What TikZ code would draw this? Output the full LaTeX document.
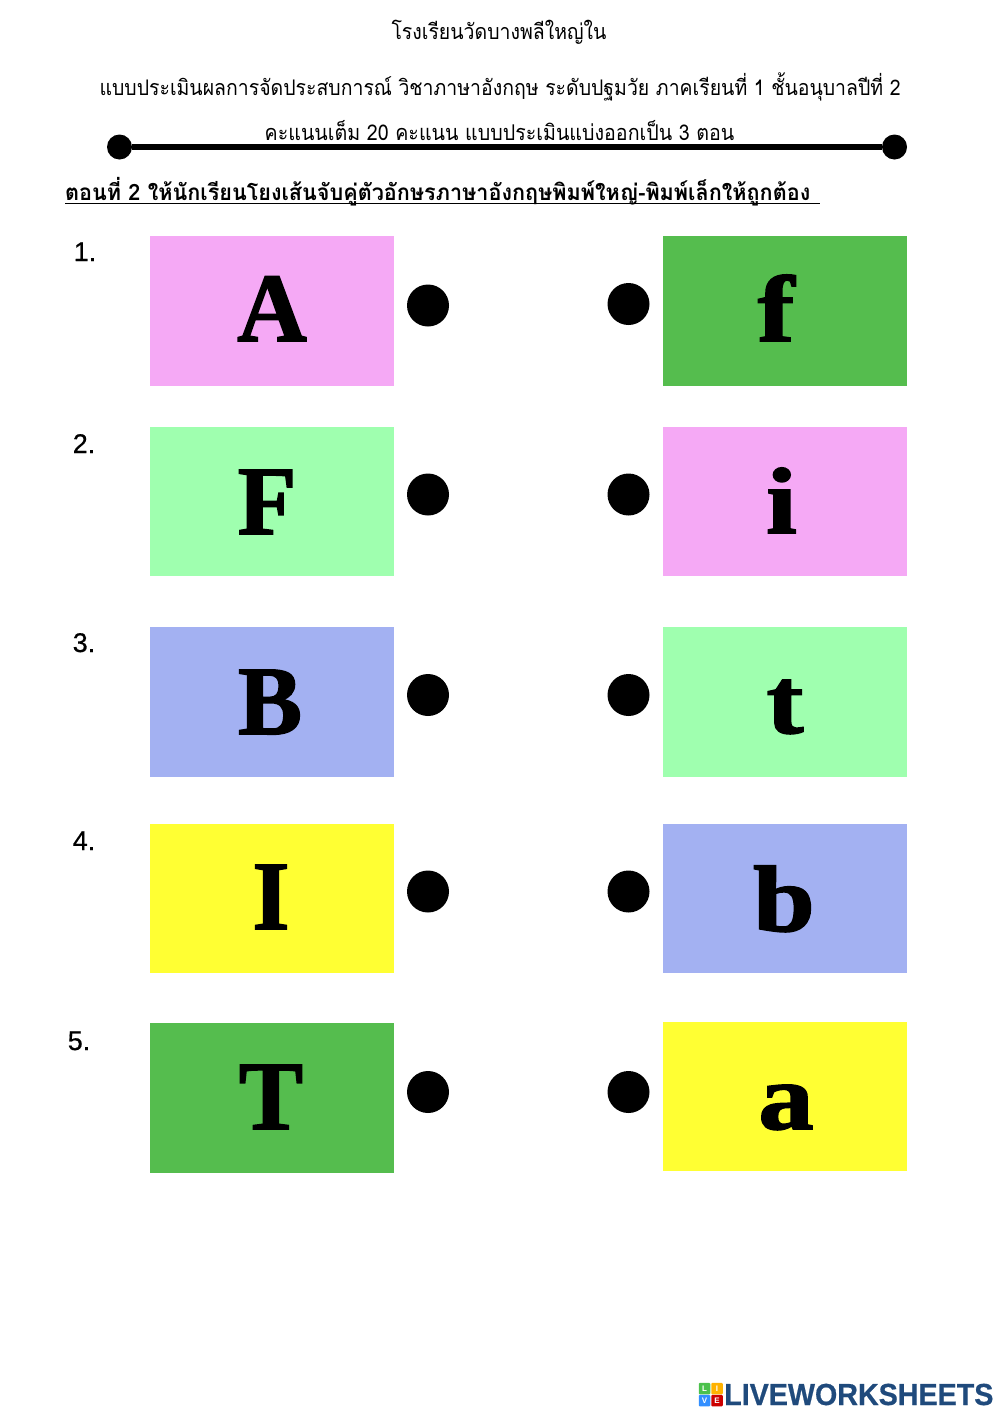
\documentclass[tikz,border=0pt]{standalone}
\usepackage{fontspec}
\setmainfont{Liberation Sans}
\newfontfamily\thaifont[Script=Thai,FakeStretch=0.905]{Loma}
\newfontfamily\taskfont[Script=Thai,FakeStretch=0.96]{Loma Bold}
\newfontfamily\letterfont[FakeStretch=0.98,FakeBold=1.6]{Liberation Serif Bold}
\newfontfamily\smallletterfont[FakeStretch=1.18,FakeBold=1.8]{Liberation Serif Bold}
\newfontfamily\numberfont[FakeBold=0.6]{Liberation Sans}
\newfontfamily\logofont[FakeStretch=0.94,FakeBold=0.6]{Liberation Sans Bold}
\definecolor{cardpink}{HTML}{F5A9F5}
\definecolor{cardmint}{HTML}{9FFFAF}
\definecolor{cardblue}{HTML}{A3B1F2}
\definecolor{cardyellow}{HTML}{FFFF33}
\definecolor{cardgreen}{HTML}{55BD4E}
\definecolor{logonavy}{HTML}{1F4A7C}
\tikzset{
  card/.style={inner sep=0pt,minimum width=244pt,minimum height=149.5pt},
  letter/.style={anchor=base,inner sep=0pt,font=\letterfont\fontsize{98}{98}\selectfont},
  smallletter/.style={anchor=base,inner sep=0pt,font=\smallletterfont\fontsize{94}{94}\selectfont},
  dot/.style={circle,fill=black,inner sep=0pt,minimum size=42pt},
  enddot/.style={circle,fill=black,inner sep=0pt,minimum size=25pt},
  number/.style={anchor=base,inner sep=0pt,font=\numberfont\fontsize{27}{27}\selectfont},
  thaitext/.style={anchor=base,inner sep=0pt,font=\thaifont\fontsize{21.5}{21.5}\selectfont},
  logotile/.style={inner sep=0pt,minimum size=11.5pt,rounded corners=1pt,text=white,font=\bfseries\fontsize{8}{8}\selectfont}
}
\begin{document}
\begin{tikzpicture}[x=1pt,y=-1pt]
 \useasboundingbox (0,0) rectangle (1000,1414);
 % heading
 \node[thaitext] (school) at (499,39) {โรงเรียนวัดบางพลีใหญ่ใน};
 \node[thaitext] (subject) at (500,95) {แบบประเมินผลการจัดประสบการณ์ วิชาภาษาอังกฤษ ระดับปฐมวัย ภาคเรียนที่ 1 ชั้นอนุบาลปีที่ 2};
 \node[thaitext,font=\thaifont\fontsize{21.7}{21.7}\selectfont] (score) at (499.5,140) {คะแนนเต็ม 20 คะแนน แบบประเมินแบ่งออกเป็น 3 ตอน};
 \node[enddot] (ruleL) at (119.5,147) {};
 \node[enddot] (ruleR) at (894.5,147) {};
 \draw[line width=6pt] (ruleL) -- (ruleR);
 \node[thaitext,anchor=base west,font=\taskfont\fontsize{22.5}{22.5}\selectfont] (task) at (65,200) {ตอนที่ 2 ให้นักเรียนโยงเส้นจับคู่ตัวอักษรภาษาอังกฤษพิมพ์ใหญ่-พิมพ์เล็กให้ถูกต้อง};
 \coordinate (taskL) at (65,203.5);
 \coordinate (taskR) at (820,203.5);
 \draw[line width=1.6pt] (taskL) -- (taskR);
 % numbers
 \node[number] (n1) at (85,261) {1.};
 \node[number] (n2) at (84,453) {2.};
 \node[number] (n3) at (84,652) {3.};
 \node[number] (n4) at (84,850) {4.};
 \node[number] (n5) at (79,1050) {5.};
 % left cards
 \node[card,fill=cardpink] (capA) at (272,311) {};
 \node[card,fill=cardmint] (capF) at (272,501.5) {};
 \node[card,fill=cardblue] (capB) at (272,702) {};
 \node[card,fill=cardyellow] (capI) at (272,898.5) {};
 \node[card,fill=cardgreen] (capT) at (272,1098) {};
 % right cards
 \node[card,fill=cardgreen] (lowF) at (785,311) {};
 \node[card,fill=cardpink] (lowI) at (785,501.5) {};
 \node[card,fill=cardmint] (lowT) at (785,702) {};
 \node[card,fill=cardblue] (lowB) at (785,898.5) {};
 \node[card,fill=cardyellow] (lowA) at (785,1096.5) {};
 % letters
 \node[letter] (letterA) at (272,341) {A};
 \node[letter] (letterF) at (267,534) {F};
 \node[letter] (letterB) at (270,734) {B};
 \node[letter] (letterI) at (271,929) {I};
 \node[letter] (letterT) at (271,1129) {T};
 \node[smallletter] (letterf) at (776,341) {f};
 \node[smallletter] (letteri) at (781.5,533) {i};
 \node[smallletter] (lettert) at (785,733) {t};
 \node[smallletter] (letterb) at (784,931) {b};
 \node[smallletter] (lettera) at (786,1129) {a};
 % dots
 \node[dot] (dotL1) at (428,305.5) {};
 \node[dot] (dotL2) at (428,494.5) {};
 \node[dot] (dotL3) at (428,695) {};
 \node[dot] (dotL4) at (428,891.5) {};
 \node[dot] (dotL5) at (428,1092) {};
 \node[dot] (dotR1) at (628.5,304) {};
 \node[dot] (dotR2) at (628.5,494.5) {};
 \node[dot] (dotR3) at (628.5,695) {};
 \node[dot] (dotR4) at (628.5,891.5) {};
 \node[dot] (dotR5) at (628.5,1092) {};
 % logo
 \node[logotile,fill=green!65!black!70] (logoL) at (704.5,1388.5) {L};
 \node[logotile,fill=orange!60!yellow] (logoI) at (717,1388.5) {I};
 \node[logotile,fill=blue!55!cyan!80] (logoV) at (704.5,1400.5) {V};
 \node[logotile,fill=red!80!black] (logoE) at (717,1400.5) {E};
 \node[anchor=base west,inner sep=0pt,text=logonavy,font=\logofont\fontsize{30.5}{30.5}\selectfont] (logotext) at (724,1405) {LIVEWORKSHEETS};
\end{tikzpicture}
\end{document}
